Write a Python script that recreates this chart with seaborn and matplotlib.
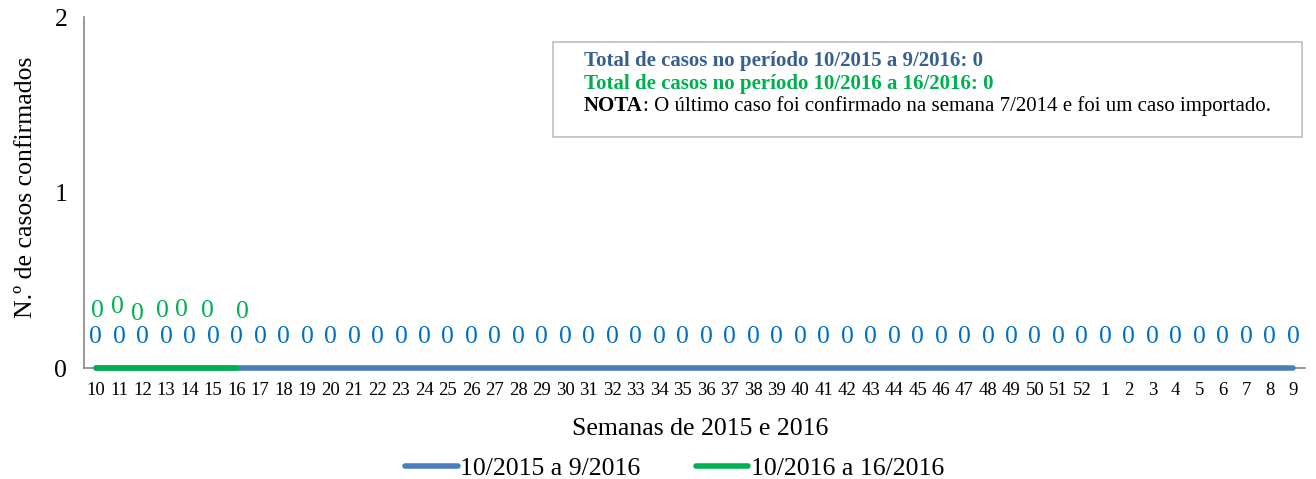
import matplotlib
matplotlib.use("Agg")
import matplotlib.pyplot as plt
import seaborn as sns
import pandas as pd
import numpy as np

weeks = [str(w) for w in list(range(10, 53)) + list(range(1, 10))]
cases_2015_16 = [0] * 52
cases_2016 = [0, 0, 0, 0, 0, 0, 0]
series_names = ["10/2015 a 9/2016", "10/2016 a 16/2016"]
note_lines = [
    "Total de casos no período 10/2015 a 9/2016: 0",
    "Total de casos no período 10/2016 a 16/2016: 0",
]
note_bold = "NOTA"
note_rest = ": O último caso foi confirmado na semana 7/2014 e foi um caso importado."

sns.set_style("white")
plt.rcParams["font.family"] = ["Liberation Serif", "DejaVu Serif"]
plt.rcParams["text.color"] = "black"
plt.rcParams["axes.labelcolor"] = "black"
plt.rcParams["xtick.color"] = "black"
plt.rcParams["ytick.color"] = "black"

blue_line = "#4A7EBB"
green_line = "#00B050"
blue_lbl = "#0070C0"
blue_txt = "#376092"
grey = "#868686"

fig = plt.figure(figsize=(13.16, 4.79), dpi=100)
ax = fig.add_axes([0.0638, 0.2317, 0.9278, 0.7328])

df_a = pd.DataFrame({"x": np.arange(len(cases_2015_16)), "y": cases_2015_16})
df_b = pd.DataFrame({"x": np.arange(len(cases_2016)), "y": cases_2016})
sns.lineplot(data=df_a, x="x", y="y", ax=ax, color=blue_line, lw=4,
             solid_capstyle="round", label=series_names[0], zorder=3, clip_on=False)
sns.lineplot(data=df_b, x="x", y="y", ax=ax, color=green_line, lw=4,
             solid_capstyle="round", label=series_names[1], zorder=4, clip_on=False)

# data labels
for i, v in enumerate(cases_2015_16):
    ax.annotate(str(v), (i, v), xytext=(0, 22), textcoords="offset points",
                ha="center", va="center", color=blue_lbl, fontsize=18.5)
green_off = [(1.5, 41), (-1, 44), (-4, 39), (-3, 41), (-6, 42), (-4, 41), (4, 40)]
for i, v in enumerate(cases_2016):
    dx, dy = green_off[i]
    ax.annotate(str(v), (i, v), xytext=(dx, dy), textcoords="offset points",
                ha="center", va="center", color=green_line, fontsize=18.5)

n = len(weeks)
ax.set_xlim(-0.5, n - 0.5)
ax.set_ylim(0, 2)
ax.set_yticks([0, 1, 2])
ax.set_yticklabels(["0", "1", "2"], fontsize=18.5)
ax.set_xticks(np.arange(n))
ax.set_xticklabels(weeks, fontsize=13.5)
ax.set_xticks(np.arange(-0.5, n, 1), minor=True)
ax.tick_params(axis="x", which="major", length=0, pad=10)
ax.tick_params(axis="x", which="minor", length=5, color=grey, width=1, direction="out")
ax.tick_params(axis="y", length=6, color=grey, width=1, direction="out", pad=6)

for s in ["top", "right"]:
    ax.spines[s].set_visible(False)
for s in ["left", "bottom"]:
    ax.spines[s].set_color(grey)
    ax.spines[s].set_linewidth(1.2)

ax.set_xlabel("Semanas de 2015 e 2016", fontsize=18.5)
ax.xaxis.set_label_coords(0.505, -0.143)
ax.set_ylabel("N.º de casos confirmados", fontsize=18.5)
ax.yaxis.set_label_coords(-0.0385, 0.515)

leg = ax.legend(loc="center", bbox_to_anchor=(0.4838, -0.287), ncol=2,
                frameon=False, fontsize=18.5, handlelength=2.05, handletextpad=0.1,
                columnspacing=2.15, borderaxespad=0)

# note box
box = plt.Rectangle((0.4202, 0.713), 0.5695, 0.199, transform=fig.transFigure,
                    fill=False, edgecolor="#BFBFBF", lw=1.2)
fig.add_artist(box)
x0 = 584 / 1316
fig.text(x0, 0.873, note_lines[0], color=blue_txt, fontsize=15,
         fontweight="bold", va="center")
fig.text(x0, 0.825, note_lines[1], color=green_line, fontsize=15,
         fontweight="bold", va="center")
t = fig.text(x0, 0.778, note_bold, color="black", fontsize=15,
             fontweight="bold", va="center")
fig.canvas.draw()
bb = t.get_window_extent(renderer=fig.canvas.get_renderer())
fig.text(bb.x1 / fig.bbox.width, 0.778, note_rest,
         color="black", fontsize=15, va="center")

fig.savefig("out.png", dpi=100)
